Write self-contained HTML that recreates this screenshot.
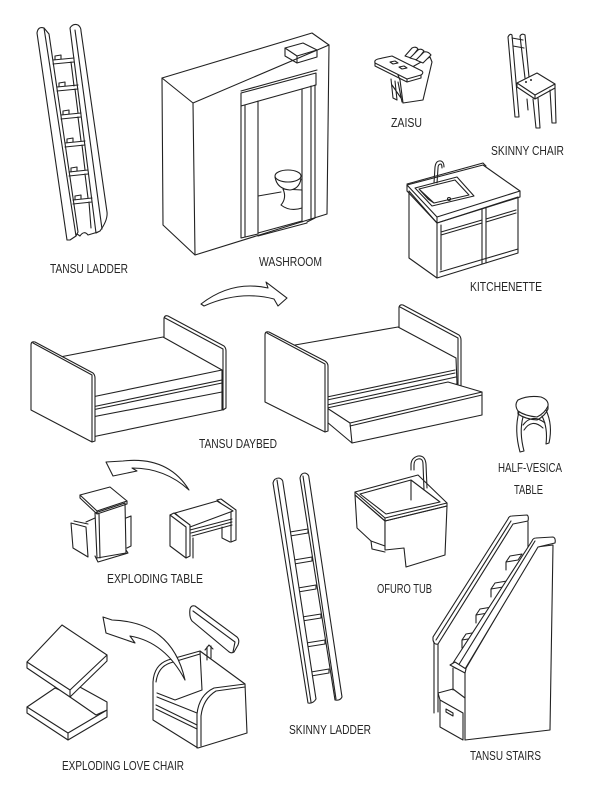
<!DOCTYPE html>
<html>
<head>
<meta charset="utf-8">
<style>
html,body{margin:0;padding:0;background:#fff;}
svg{display:block;}
.s{fill:none;stroke:#222;stroke-width:1.1;stroke-linejoin:round;stroke-linecap:round;}
.w{fill:#fff;stroke:#222;stroke-width:1.1;stroke-linejoin:round;stroke-linecap:round;}
text{font-family:"Liberation Sans Narrow","Liberation Sans",sans-serif;font-size:12.5px;fill:#262626;}
</style>
</head>
<body>
<svg width="600" height="810" viewBox="0 0 600 810" xmlns="http://www.w3.org/2000/svg">
<rect width="600" height="810" fill="#fff"/>

<!-- TANSU LADDER -->
<g>
<path class="w" d="M70,28 Q73,23 78,25 Q81,27 81,31 L107,212 Q108,220 100,231 L96,233 Z"/>
<path class="s" d="M75,30 L102,229"/>
<path class="s" d="M53,60 L74,58 M53,64 L74,62 M55,60 L55,56 L61,55 L61,59 M71,62 L74,86
M57,87 L78,85 M57,91 L78,89 M59,87 L59,83 L65,82 L65,86 M75,89 L78,113
M61,115 L81,113 M61,119 L81,117 M63,115 L63,111 L69,110 L69,114 M78,117 L81,141
M65,143 L85,141 M65,147 L85,145 M67,143 L67,139 L73,138 L73,142 M82,145 L85,170
M69,172 L88,170 M69,176 L88,174 M71,172 L71,168 L77,167 L77,171 M85,174 L88,198
M73,200 L92,198 M73,204 L92,202 M75,200 L75,196 L81,195 L81,199 M89,202 L91,228"/>
<path class="s" d="M70,239 L77,234 L80,236 Q84,230 88,235 L98,232"/>
<path class="w" d="M37,33 Q38,26 44,28 L76,236 L70,240 L67,240 Z"/>
<path class="s" d="M44,28 L49,34 L78,232 L76,236"/>
</g>
<text x="50" y="273" textLength="78" lengthAdjust="spacingAndGlyphs">TANSU LADDER</text>

<!-- WASHROOM -->
<g>
<path class="w" d="M162,78 L312,33 L329,45 L327,214 L195,255 L163,225 Z"/>
<path class="s" d="M162,78 L193,103 L195,255 M193,103 L329,45"/>
<path class="w" d="M285,48 L303,43 L317,50 L297,56 Z"/>
<path class="s" d="M285,48 L285,56 L297,63 L317,57 L317,50 M297,56 L297,63"/>
<path class="s" d="M241,91 L317,70"/>
<path class="w" d="M241,93 L316,73 L316,85 L241,106 Z"/>
<path class="s" d="M241,106 L241,238 L258,234 L258,101 M245,105 L245,237"/>
<path class="s" d="M302,89 L302,222 M315,85 L315,218 L307,222 M311,86 L311,219"/>
<path class="s" d="M258,236 L307,223 M258,233 L302,221"/>
<path class="s" d="M258,196 L281,192"/>
<path class="w" d="M283,189 Q287,198 281,205 Q290,212 302,208 L302,190 Z"/>
<path class="w" d="M275,177 Q277,189 290,190 Q299,189 301,179 Z"/>
<ellipse class="w" cx="288" cy="176" rx="13" ry="6"/>
</g>
<text x="259" y="266" textLength="63" lengthAdjust="spacingAndGlyphs">WASHROOM</text>

<!-- ZAISU -->
<g>
<path class="w" d="M398,75 L430,57 L432,62 L423,100 L403,103 L400,80 Z"/>
<path class="w" d="M405,56 L412,48 Q416,46 418,49 L411,58 Z"/>
<path class="w" d="M410,58 L418,50 Q421,48 424,51 L417,60 Z"/>
<path class="w" d="M416,60 L424,52 Q428,51 431,55 L423,63 Z"/>
<path class="s" d="M391,79 L393,98 L397,100 L395,81 M398,82 L402,102 M392,85 L401,98"/>
<path class="w" d="M375,63 Q374,60 378,59 L392,56 L422,71 Q424,73 421,75 L407,79 Z"/>
<path class="s" d="M375,63 L375,66 L407,82 L421,78 L421,75 M407,79 L407,82"/>
<path class="s" d="M390,62 L395,61 L398,63 L393,64 Z M399,67 L404,66 L407,68 L402,69 Z"/>
</g>
<text x="391" y="127" textLength="31" lengthAdjust="spacingAndGlyphs">ZAISU</text>

<!-- SKINNY CHAIR -->
<g>
<path class="s" d="M520,36 Q522,33 525,35 L529,77 M520,36 L525,78"/>
<path class="s" d="M512,38 L523,40 M513,46 L524,48"/>
<path class="s" d="M508,37 Q510,33 512,35 L519,117 L515,117 L508,37"/>
<path class="s" d="M527,99 L528,110"/>
<path class="w" d="M517,83 L537,73 L555,84 L535,95 Z"/>
<path class="s" d="M517,83 L517,87 L535,99 L555,88 L555,84 M535,95 L535,99"/>
<circle cx="526" cy="82" r="1" fill="#222"/>
<circle cx="531" cy="80" r="1" fill="#222"/>
<path class="s" d="M533,99 L536,128 L540,128 L538,98 M550,90 L552,123 L556,123 L555,88"/>
</g>
<text x="491" y="155" textLength="73" lengthAdjust="spacingAndGlyphs">SKINNY CHAIR</text>

<!-- KITCHENETTE -->
<g>
<path class="w" d="M409,191 L409,258 L437,278 L518,253 L518,197 L437,223 Z"/>
<path class="s" d="M437,223 L437,278 M440,272 L518,249"/>
<path class="s" d="M482,209 L482,264 M486,208 L486,263"/>
<path class="s" d="M441,232 L482,220 M441,235 L482,223 M486,219 L516,210 M486,222 L516,213 M441,225 L441,270"/>
<path class="s" d="M407,184 L483,163 L486,166"/>
<path class="w" d="M407,185 L483,165 L520,191 L437,217 Z"/>
<path class="s" d="M407,185 L407,191 L437,223 L520,197 L520,191 M437,217 L437,223"/>
<path class="w" d="M415,188 L457,177 L474,196 L432,206 Z"/>
<path class="s" d="M419,189 L455,180 L469,195 L434,203 Z M419,189 L428,199 L434,203"/>
<circle class="s" cx="449" cy="199" r="1.5"/>
<path class="s" d="M434,183 L435,167 Q436,160 441,161 Q444,162 444,167 M437,183 L438,168 Q438,164 441,164 Q442,165 442,168"/>
</g>
<text x="470" y="291" textLength="72" lengthAdjust="spacingAndGlyphs">KITCHENETTE</text>

<!-- top arrow -->
<path class="w" d="M201,304 Q232,280 268,288 L266,282 L287,298 L278,306 L274,299 Q240,290 204,306 Z"/>

<!-- DAYBED LEFT -->
<g>
<path class="w" d="M164,337 L164,318 Q165,315 168,316 L224,346 Q226,348 226,351 L226,408 L223,410 L223,349 L165,318"/>
<path class="w" d="M60,357 L163,337 L222,370 L222,410 L92,437 L92,397 Z"/>
<path class="s" d="M92,397 L222,370 M92,407 L222,380 M92,410 L222,383 M92,417 L222,392"/>
<path class="w" d="M31,345 Q31,341 35,342 L93,373 Q95,375 95,378 L95,441 L92,442 L31,410 Z"/>
<path class="s" d="M33,343 L92,375 L92,442"/>
</g>

<!-- DAYBED RIGHT -->
<g>
<path class="w" d="M399,327 L399,307 Q400,304 403,305 L459,335 Q461,337 461,340 L461,389 L458,391 L458,338 L400,307"/>
<path class="w" d="M295,345 L398,327 L456,358 L457,384 L327,412 L327,385 Z"/>
<path class="s" d="M327,397 L455,370 M327,400 L455,373 M327,405 L456,377"/>
<path class="w" d="M327,408 L448,382 L482,392 L482,415 L352,443 L327,422 Z"/>
<path class="s" d="M327,408 L350,423 L482,392 M350,426 L482,395 M350,423 L352,443"/>
<path class="w" d="M265,335 Q265,331 269,332 L325,361 Q328,363 328,366 L328,431 L325,432 L265,402 Z"/>
<path class="s" d="M267,333 L325,364 L325,432"/>
</g>
<text x="199" y="448" textLength="78" lengthAdjust="spacingAndGlyphs">TANSU DAYBED</text>

<!-- HALF-VESICA TABLE -->
<g>
<path class="s" d="M519,412 Q514,430 520,452 L524,451 Q519,432 523,417"/>
<path class="s" d="M546,410 Q553,425 549,443 L546,444 Q548,428 542,416"/>
<path class="s" d="M523,425 Q532,413 545,423 M524,430 Q532,418 543,428"/>
<path class="w" d="M518,400 Q528,395 541,397 Q549,400 548,406 Q545,413 537,417 Q525,416 518,411 Q514,405 518,400 Z"/>
<path class="s" d="M518,411 L518,414 Q525,419 537,420 Q545,416 548,409 L548,406"/>
</g>
<text x="498" y="472" textLength="64" lengthAdjust="spacingAndGlyphs">HALF-VESICA</text>
<text x="514" y="494" textLength="29" lengthAdjust="spacingAndGlyphs">TABLE</text>

<!-- table arrow -->
<path class="w" d="M106,462 L113,476 L137,471 L132,468 Q165,468 189,490 Q168,456 123,461 Z"/>

<!-- EXPLODING TABLE left -->
<g>
<path class="w" d="M71,523 L86,527 L88,557 L73,548 Z"/>
<path class="s" d="M74,521 L88,524 M86,522 L95,518"/>
<path class="w" d="M95,513 L125,503 L126,553 L97,558 Z"/>
<path class="s" d="M99,514 L100,558 M95,556 L98,562 L128,553 L126,550"/>
<path class="s" d="M126,518 L131,516 L131,546 L127,548"/>
<path class="w" d="M80,495 L110,487 L127,501 L97,511 Z"/>
<path class="s" d="M80,495 L80,498 L97,514 L127,504 L127,501 M97,511 L97,514"/>
</g>
<!-- EXPLODING TABLE right -->
<g>
<path class="w" d="M217,500 L221,499 L236,510 L236,540 L231,542 L231,512 Z"/>
<path class="s" d="M193,538 L193,558 M222,527 L222,538 L230,542"/>
<path class="w" d="M175,513 L217,501 L233,511 L190,527 Z"/>
<path class="s" d="M190,530 L232,519 M191,533 L232,522 M192,536 L232,525"/>
<path class="w" d="M170,515 L174,513 L190,525 L190,556 L186,558 L170,546 Z"/>
<path class="s" d="M170,515 L186,527 L186,558"/>
</g>
<text x="107" y="583" textLength="96" lengthAdjust="spacingAndGlyphs">EXPLODING TABLE</text>

<!-- SKINNY LADDER -->
<g>
<path class="w" d="M300,478 Q301,473 305,473 Q309,474 309,478 L342,697 Q340,701 335,700 Z"/>
<path class="s" d="M303,476 L336,699"/>
<path class="w" d="M290,532 L308,529 L308,533 L290,536 Z"/>
<path class="w" d="M294,560 L312,557 L312,561 L294,564 Z"/>
<path class="w" d="M298,588 L316,585 L316,589 L298,592 Z"/>
<path class="w" d="M302,617 L321,614 L321,618 L302,621 Z"/>
<path class="w" d="M306,643 L325,640 L325,644 L306,647 Z"/>
<path class="w" d="M311,672 L329,669 L329,673 L311,676 Z"/>
<path class="w" d="M273,483 Q274,478 279,478 Q283,479 283,483 L316,699 Q313,704 308,703 Z"/>
<path class="s" d="M277,480 L311,702"/>
</g>
<text x="289" y="734" textLength="82" lengthAdjust="spacingAndGlyphs">SKINNY LADDER</text>

<!-- OFURO TUB -->
<g>
<path class="w" d="M355,495 L385,521 L385,546 L371,541 L357,528 Z"/>
<path class="s" d="M371,541 L372,549 L385,552"/>
<path class="w" d="M385,521 L447,506 L445,555 L406,567 L404,548 L385,550 Z"/>
<path class="w" d="M355,492 L418,475 L447,503 L385,518 Z"/>
<path class="s" d="M355,492 L355,495 L385,521 L447,506 L447,503 M385,518 L385,521"/>
<path class="s" d="M360,494 L411,480 L440,502 L386,514 Z M411,480 L411,500"/>
<path class="s" d="M424,490 L423,464 Q423,458 418,459 Q414,460 414,465 L414,470 M427,488 L426,464 Q425,455 418,456 Q411,458 411,465 L411,470"/>
</g>
<text x="377" y="593" textLength="55" lengthAdjust="spacingAndGlyphs">OFURO TUB</text>

<!-- TANSU STAIRS -->
<g>
<path class="s" d="M528,522 L528,560"/>
<path class="w" d="M433,637 L508,519 Q509,516 512,516 L527,515 Q529,516 528,521 L513,524 L438,644 Q434,645 433,640 Z"/>
<path class="s" d="M436,640 L511,521 M434,642 L434,713 M438,644 L438,712"/>
<path class="w" d="M506,562 L510,556 L522,554 L518,560 Z"/>
<path class="w" d="M491,589 L495,583 L507,581 L503,587 Z"/>
<path class="w" d="M476,615 L480,609 L492,607 L488,613 Z"/>
<path class="w" d="M462,640 L466,634 L478,632 L474,638 Z"/>
<path class="s" d="M506,562 L506,570 M491,589 L491,597 M476,615 L476,623 M462,640 L462,648"/>
<path class="w" d="M465,670 L537,547 L553,545 L550,730 L465,740 Z"/>
<path class="w" d="M453,663 L532,541 Q533,538 536,538 L553,537 Q556,538 555,543 L538,547 L465,669 Q460,670 455,668 Z"/>
<path class="s" d="M458,666 L535,541"/>
<path class="w" d="M450,665 L455,662 L466,669 L465,673 Z"/>
<path class="s" d="M453,668 L453,690 M438,693 L453,689 L465,698 M438,693 L440,700"/>
<path class="w" d="M440,700 L463,713 L463,740 L440,727 Z"/>
<path class="s" d="M446,709 L453,713 L453,716 L446,712 Z"/>
</g>
<text x="470" y="760" textLength="71" lengthAdjust="spacingAndGlyphs">TANSU STAIRS</text>

<!-- LOVE CHAIR cushions -->
<g>
<path class="w" d="M27,707 L55,688 L107,710 L107,717 L68,740 L27,713 Z"/>
<path class="s" d="M27,707 L68,733 L107,710 M68,733 L68,740"/>
<path class="w" d="M70,697 L78,686 L107,702 L107,710 L96,715 Z"/>
<path class="w" d="M27,662 L62,625 L107,655 L107,661 L70,697 L27,668 Z"/>
<path class="s" d="M27,662 L70,690 L107,655 M70,690 L70,697"/>
</g>
<!-- LOVE CHAIR body -->
<g>
<path class="w" d="M190,609 Q191,605 195,606 L237,637 Q240,640 238,645 L234,652 Q231,654 228,651 L192,621 Q189,617 190,609 Z"/>
<path class="s" d="M193,611 L235,642 L233,652"/>
<path class="w" d="M153,720 L153,682 Q154,665 168,660 L200,651 L245,684 L247,733 L198,748 Z"/>
<path class="s" d="M200,651 L202,690 M156,682 Q158,667 170,663 L200,654"/>
<path class="s" d="M157,693 L175,700 L202,690 M157,697 L197,713"/>
<path class="s" d="M197,748 L197,714 Q199,695 214,688 L245,684 M201,746 L201,716 Q203,699 216,691 L245,687"/>
<path class="s" d="M156,705 L197,725 M156,709 L197,729"/>
<path class="s" d="M207,647 L207,660 M211,646 L211,658 M205,650 L209,645 L213,649"/>
</g>
<!-- love chair arrow -->
<path class="w" d="M103,617 L106,633 L135,643 L130,636 Q165,642 185,680 Q172,622 112,620 Z"/>
<text x="62" y="770" textLength="122" lengthAdjust="spacingAndGlyphs">EXPLODING LOVE CHAIR</text>

</svg>
</body>
</html>
